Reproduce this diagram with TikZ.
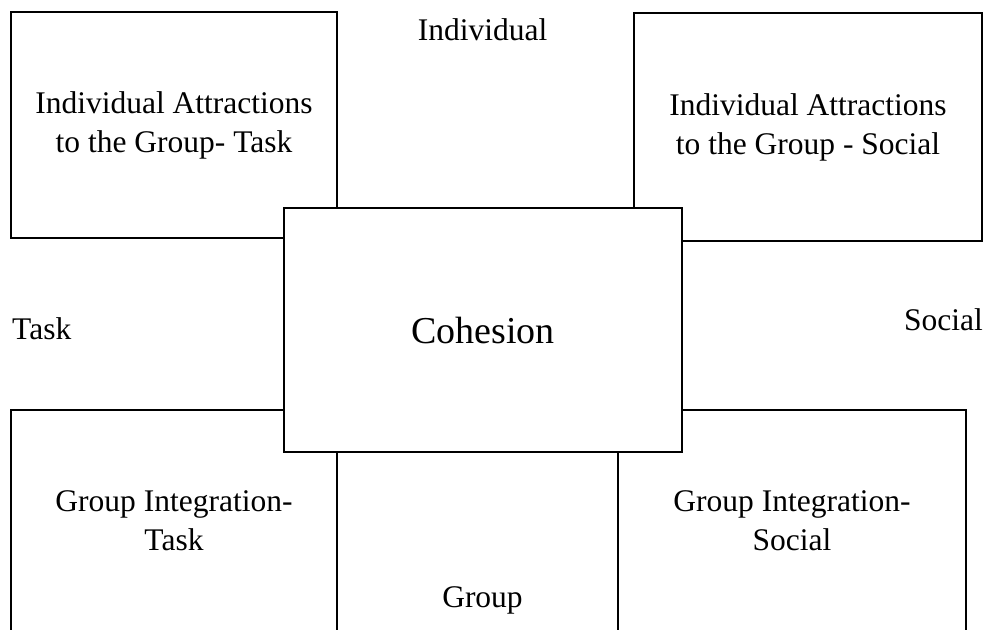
\documentclass[tikz,border=0pt]{standalone}
\usepackage{fontspec}
\setmainfont{Liberation Serif}
\begin{document}
\begin{tikzpicture}[x=1pt,y=-1pt,
  boxstyle/.style={draw=black,line width=1.6pt,fill=white,inner sep=0pt,align=center,
    font=\fontsize{31.5}{39}\selectfont},
  lbl/.style={inner sep=0pt,font=\fontsize{31.5}{39}\selectfont}]
\useasboundingbox (0,0) rectangle (987,629);
\clip (0,0) rectangle (987,629);
\fill[white] (0,0) rectangle (987,629);
\node[boxstyle,minimum width=326pt,minimum height=226pt] (iat) at (174,125) {Individual Attractions\\to the Group- Task};
\node[boxstyle,minimum width=348pt,minimum height=228pt] (ias) at (808,127) {Individual Attractions\\to the Group - Social};
\node[boxstyle,minimum width=326pt,minimum height=222pt] (git) at (174,521) {Group Integration-\\Task};
\node[boxstyle,minimum width=348pt,minimum height=222pt] (gis) at (792,521) {Group Integration-\\Social};
\node[boxstyle,line width=2.2pt,minimum width=398pt,minimum height=244pt,font=\fontsize{38}{44}\selectfont] (coh) at (483,330) {Cohesion};
\node[lbl,anchor=base] (ind) at (482.5,40.5) {Individual};
\node[lbl,anchor=base west] (task) at (12,339) {Task};
\node[lbl,anchor=base west] (soc) at (904,330) {Social};
\node[lbl,anchor=base] (grp) at (482.5,607) {Group};
\end{tikzpicture}
\end{document}
